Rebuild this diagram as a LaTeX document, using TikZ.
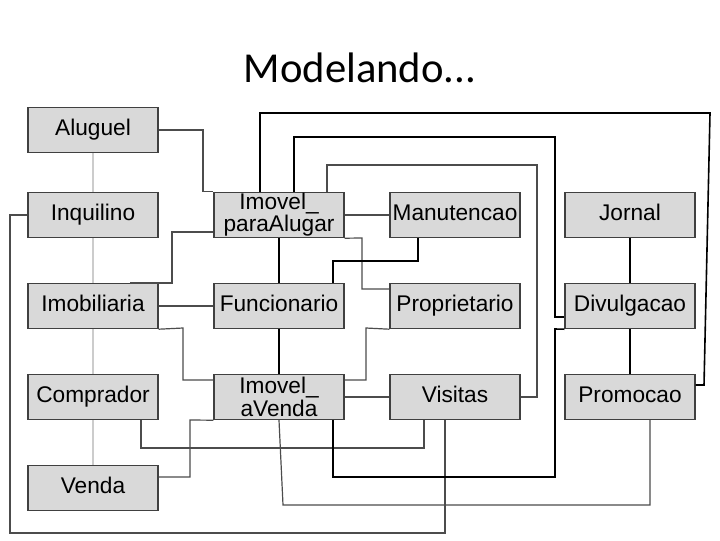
\documentclass[tikz,border=0pt]{standalone}
\usepackage{fontspec}
\setmainfont{Liberation Sans}
\newfontfamily\titlefont{Carlito}
\begin{document}
\begin{tikzpicture}[x=0.75pt,y=-0.75pt,
  box/.style={draw=black!75,fill=black!15,line width=0.8pt,minimum width=97.5pt,minimum height=34pt,inner sep=0pt,align=center,font=\fontsize{17}{15}\selectfont},
  one/.style={text height=12pt,text depth=3.5pt},
  ln/.style={draw=black!70,line width=0.9pt},
  bk/.style={draw=black,line width=1.2pt}]
\useasboundingbox (0,0) rectangle (720,540);
\node[font=\titlefont\fontsize{32}{34}\selectfont] (title) at (360,68) {Modelando...};
\node[box,one] (al) at (93,130) {Aluguel};
\node[box,one] (in) at (93,215) {Inquilino};
\node[box,one] (im) at (93,306) {Imobiliaria};
\node[box,one] (co) at (93,397) {Comprador};
\node[box,one] (ve) at (93,488) {Venda};
\draw[draw=black!20,line width=0.8pt] (al) -- (in) (in) -- (im) (im) -- (co) (co) -- (ve);
\node[box] (pa) at (279,215) {Imovel\_\\paraAlugar};
\node[box,one] (fu) at (279,306) {Funcionario};
\node[box] (av) at (279,397) {Imovel\_\\aVenda};
\node[box,one] (ma) at (455,215) {Manutencao};
\node[box,one] (pr) at (455,306) {Proprietario};
\node[box,one] (vi) at (455,397) {Visitas};
\node[box,one] (jo) at (630,215) {Jornal};
\node[box,one] (di) at (630,306) {Divulgacao};
\node[box,one] (po) at (630,397) {Promocao};
% connectors
\draw[ln] (al.east) -- (203,130) |- (pa.north west);
\draw[ln] (in.west) -- (10,215) -- (10,533) -- (445,533) -- (vi.south -| 445,0);
\draw[bk] (pa.north -| 260,0) -- (260,113) -- (710,113) -- (704,385) -- (po.east |- 0,385);
\draw[bk] (pa.north -| 294,0) -- (294,137) -- (555,137) -- (555,317) -- (di.west |- 0,317);
\draw[ln] (pa.north -| 327,0) -- (327,165) -- (537,165) -- (537,397) -- (vi.east);
\draw[ln] (pa.east) -- (ma.west);
\draw[ln] (pa.south east) -- (362,238) -- (362,289) -- (pr.west |- 0,289);
\draw[ln] (pa.west |- 0,232) -- (172,232) -- (172,283) -- (130,283);
\draw[bk] (pa.south) -- (fu.north);
\draw[bk] (fu.north -| 333,0) -- (333,261) -- (418,261) -- (ma.south -| 418,0);
\draw[ln] (im.east) -- (fu.west);
\draw[ln] (im.south east) -- (183,328) -- (183,380) -- (av.west |- 0,380);
\draw[bk] (fu.south) -- (av.north);
\draw[ln] (av.east |- 0,380) -- (366,380) -- (366,328) -- (pr.south west);
\draw[ln] (av.east) -- (vi.west);
\draw[ln] (co.south -| 141,0) -- (141,448) -- (424,448) -- (vi.south -| 424,0);
\draw[ln] (ve.east |- 0,477) -- (190,477) -- (190,420) -- (av.south west);
\draw[bk] (av.south -| 333,0) -- (333,477) -- (555,477) -- (555,329) -- (di.south west);
\draw[ln] (av.south) -- (283,505) -- (650,505) -- (po.south -| 650,0);
\draw[bk] (jo.south) -- (di.north);
\draw[bk] (di.south) -- (po.north);
\end{tikzpicture}
\end{document}
